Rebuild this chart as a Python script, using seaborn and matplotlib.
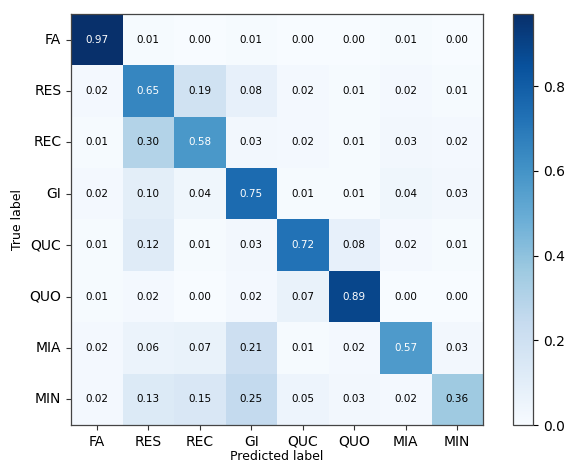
import numpy as np
import pandas as pd
import matplotlib
matplotlib.use("Agg")
import matplotlib.pyplot as plt
import seaborn as sns

labels = ["FA", "RES", "REC", "GI", "QUC", "QUO", "MIA", "MIN"]
row_FA  = [0.97, 0.01, 0.00, 0.01, 0.00, 0.00, 0.01, 0.00]
row_RES = [0.02, 0.65, 0.19, 0.08, 0.02, 0.01, 0.02, 0.01]
row_REC = [0.01, 0.30, 0.58, 0.03, 0.02, 0.01, 0.03, 0.02]
row_GI  = [0.02, 0.10, 0.04, 0.75, 0.01, 0.01, 0.04, 0.03]
row_QUC = [0.01, 0.12, 0.01, 0.03, 0.72, 0.08, 0.02, 0.01]
row_QUO = [0.01, 0.02, 0.00, 0.02, 0.07, 0.89, 0.00, 0.00]
row_MIA = [0.02, 0.06, 0.07, 0.21, 0.01, 0.02, 0.57, 0.03]
row_MIN = [0.02, 0.13, 0.15, 0.25, 0.05, 0.03, 0.02, 0.36]

cm = pd.DataFrame([row_FA, row_RES, row_REC, row_GI, row_QUC, row_QUO, row_MIA, row_MIN],
                  index=labels, columns=labels)

fig = plt.figure(figsize=(5.69, 4.65), dpi=100)
ax = fig.add_axes([71/569, 40/465, 412/569, 411/465])
cax = fig.add_axes([513/569, 40/465, 20/569, 411/465])

vmax = cm.values.max()
sns.heatmap(cm, ax=ax, cbar_ax=cax, cmap="Blues", vmin=0, vmax=vmax,
            annot=True, fmt=".2f", annot_kws={"size": 7.5})

thresh = vmax / 2
for t, v in zip(ax.texts, cm.values.flatten()):
    t.set_color("white" if v > thresh else "black")

for s in ax.spines.values():
    s.set_visible(True)
    s.set_color("#444444")
    s.set_linewidth(0.9)
ax.tick_params(axis="both", labelsize=10, length=3.5, color="#333333")
ax.set_yticklabels(labels, rotation=0)
ax.set_xticklabels(labels, rotation=0)
ax.set_xlabel("Predicted label", fontsize=9, labelpad=1)
ax.set_ylabel("True label", fontsize=9)

cax.tick_params(labelsize=10, length=3.5)
cax.set_yticks([0.0, 0.2, 0.4, 0.6, 0.8])
cbar = ax.collections[0].colorbar
cbar.outline.set_visible(True)
cbar.outline.set_edgecolor("#444444")
cbar.outline.set_linewidth(0.9)

fig.savefig("out.png", dpi=100)
